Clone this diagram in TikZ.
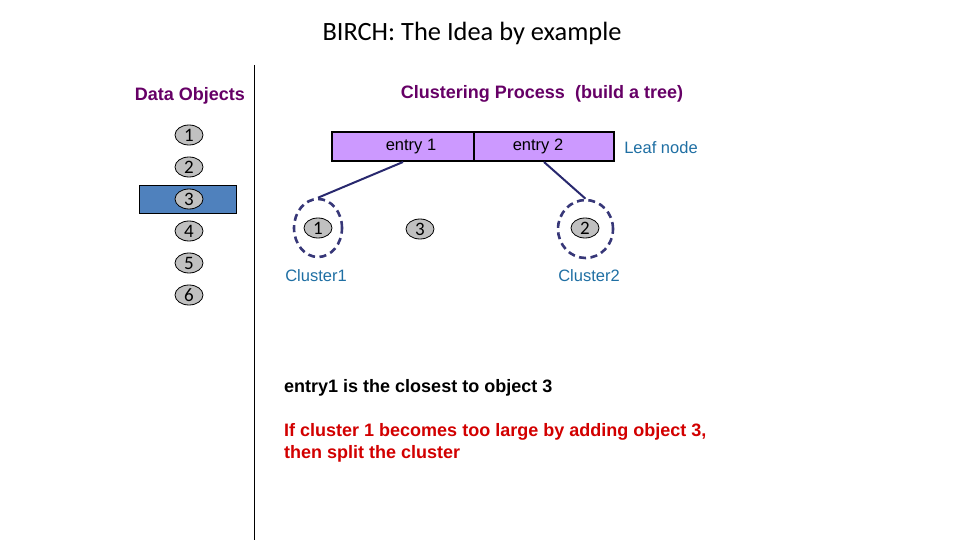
\documentclass[tikz,border=0pt]{standalone}
\usepackage{fontspec}
\setmainfont{Liberation Sans}
\newfontfamily\calibri{Carlito}
\usetikzlibrary{shapes.geometric}
\definecolor{purpletext}{RGB}{102,0,102}
\definecolor{labelblue}{RGB}{31,111,163}
\definecolor{leaffill}{RGB}{204,153,255}
\definecolor{selblue}{RGB}{79,129,189}
\definecolor{objgray}{RGB}{192,192,192}
\definecolor{navy}{RGB}{40,40,110}
\definecolor{clusterdash}{RGB}{55,55,120}
\definecolor{redtext}{RGB}{210,0,0}
\tikzset{
  obj/.style={ellipse, draw=black, line width=0.8pt, fill=objgray, minimum width=28pt, minimum height=20pt, inner sep=0pt, font=\calibri\fontsize{19}{19}\selectfont},
  entrybox/.style={rectangle, draw=black, line width=2pt, fill=leaffill, minimum height=29pt, inner sep=0pt, font=\fontsize{16.5}{18}\selectfont},
  clusterring/.style={ellipse, draw=clusterdash, line width=2.6pt, dash pattern=on 7pt off 4.5pt, inner sep=0pt},
  boldlabel/.style={font=\bfseries\fontsize{18}{21}\selectfont, inner sep=0pt},
  bluelabel/.style={font=\fontsize{16.5}{18}\selectfont, text=labelblue, inner sep=0pt},
  link/.style={draw=navy, line width=2pt}
}
\begin{document}
\begin{tikzpicture}[x=1pt,y=-1pt]
\useasboundingbox (0,0) rectangle (960,540);
% title
\node[font=\calibri\fontsize{26.4}{30}\selectfont, inner sep=0pt] (title) at (472,33) {BIRCH: The Idea by example};
% divider
\coordinate (vtop) at (254,65);
\coordinate (vbot) at (254,540);
\draw[line width=0.8pt] (vtop) -- (vbot);
% left column
\node[boldlabel, text=purpletext] (dataobj) at (190,96) {Data Objects};
\node[rectangle, draw=black, line width=1pt, fill=selblue, minimum width=97pt, minimum height=28pt, inner sep=0pt] (sel) at (187.5,199) {};
\node[obj] (o1) at (189,135) {1};
\node[obj] (o2) at (189,167) {2};
\node[obj] (o3) at (189,199) {3};
\node[obj] (o4) at (189,231) {4};
\node[obj] (o5) at (189,263) {5};
\node[obj] (o6) at (189,295) {6};
% right side
\node[boldlabel, text=purpletext] (proc) at (542,94) {Clustering Process\ \ (build a tree)};
\node[entrybox, minimum width=142pt] (e1) at (403,146.5) {\hspace*{16pt}entry 1};
\node[entrybox, minimum width=140pt] (e2) at (544,146.5) {entry 2\hspace*{12pt}};
\node[bluelabel] (leaf) at (661,148) {Leaf node};
\node[clusterring, minimum width=48pt, minimum height=58pt] (c1) at (318,228) {};
\node[clusterring, minimum width=55pt, minimum height=58pt] (c2) at (585.5,229) {};
\node[obj] (t1) at (318,228) {1};
\node[obj] (t3) at (420,229) {3};
\node[obj] (t2) at (585,228) {2};
\draw[link] (e1.south) -- (c1.north);
\draw[link] (e2.south) -- (c2.north);
\node[bluelabel] (cl1) at (316,276) {Cluster1};
\node[bluelabel] (cl2) at (589,276) {Cluster2};
% bottom texts
\node[boldlabel, anchor=west] (note1) at (284,388) {entry1 is the closest to object 3};
\node[boldlabel, anchor=north west, text=redtext, align=left, font=\bfseries\fontsize{18}{22}\selectfont] (note2) at (284,423) {If cluster 1 becomes too large by adding object 3,\\then split the cluster};
\end{tikzpicture}
\end{document}
